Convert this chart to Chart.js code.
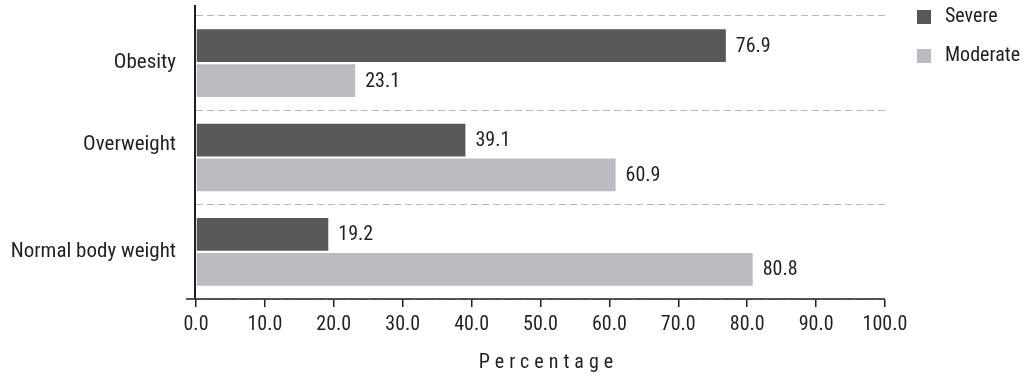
<!DOCTYPE html>
<html>
<head>
<meta charset="utf-8">
<script src="https://cdn.jsdelivr.net/npm/chart.js@4"></script>
<style>
  html, body { margin: 0; padding: 0; background: #fff; }
  #wrap { width: 1024px; height: 379px; }
</style>
</head>
<body>
<div id="wrap"><canvas id="chart"></canvas></div>
<script>
// the Overweight label sits one line high in the original, kept with an empty second line
const categories = ["Obesity", ["Overweight", ""], "Normal body weight"];
const severe = [76.9, 39.1, 19.2];
const moderate = [23.1, 60.9, 80.8];
const xTicks = [0, 10, 20, 30, 40, 50, 60, 70, 80, 90, 100];

const FONT = "'Roboto Condensed', 'DejaVu Sans Condensed', sans-serif";
const TEXT = '#231f20';
const FONT_CSS = '20px ' + FONT;

Chart.defaults.font.family = FONT;
Chart.defaults.font.size = 20;
Chart.defaults.color = TEXT;

// axis lines, value labels, legend, axis title
const extras = {
  id: 'extras',
  afterDatasetsDraw(chart) {
    const ctx = chart.ctx;
    ctx.save();
    ctx.font = FONT_CSS;
    ctx.fillStyle = TEXT;
    ctx.textAlign = 'left';
    ctx.textBaseline = 'middle';
    chart.data.datasets.forEach((ds, i) => {
      chart.getDatasetMeta(i).data.forEach((bar, j) => {
        ctx.fillText(ds.data[j].toFixed(1), bar.x + 10, bar.y + 1);
      });
    });
    ctx.restore();
  },
  afterDraw(chart) {
    const ctx = chart.ctx;
    const a = chart.chartArea;
    ctx.save();
    ctx.strokeStyle = '#231f20';
    ctx.lineWidth = 2;
    ctx.beginPath();
    ctx.moveTo(a.left - 1, a.top - 11);
    ctx.lineTo(a.left - 1, a.bottom);
    ctx.stroke();
    ctx.lineWidth = 1.5;
    ctx.beginPath();
    ctx.moveTo(a.left - 10, a.bottom);
    ctx.lineTo(a.right, a.bottom);
    ctx.stroke();

    // legend
    ctx.font = FONT_CSS;
    ctx.textBaseline = 'middle';
    ctx.textAlign = 'left';
    chart.data.datasets.forEach((ds, i) => {
      const y = 17 + i * 39;
      ctx.fillStyle = ds.backgroundColor;
      ctx.fillRect(917, y - 7, 14, 14);
      ctx.fillStyle = TEXT;
      ctx.fillText(ds.label, 945, y);
    });

    // axis title, letter spaced
    ctx.letterSpacing = '5px';
    ctx.textAlign = 'center';
    ctx.fillText('Percentage', (a.left + a.right) / 2 + 8, 363);
    ctx.restore();
  }
};

new Chart(document.getElementById('chart'), {
  type: 'bar',
  data: {
    labels: categories,
    datasets: [
      { label: 'Severe', data: severe, backgroundColor: '#58585a' },
      { label: 'Moderate', data: moderate, backgroundColor: '#bbbcbf' }
    ]
  },
  options: {
    indexAxis: 'y',
    responsive: true,
    maintainAspectRatio: false,
    animation: false,
    layout: { padding: { top: 16, right: 139, left: 0, bottom: 0 } },
    datasets: { bar: { categoryPercentage: 0.74, barPercentage: 0.94 } },
    plugins: {
      legend: { display: false },
      tooltip: { enabled: false }
    },
    scales: {
      x: {
        min: 0,
        max: 100,
        afterBuildTicks: (s) => { s.ticks = xTicks.map(v => ({ value: v })); },
        afterFit: (s) => { s.height = 80; s.paddingLeft = 0; s.paddingRight = 0; },
        border: { display: false },
        grid: {
          drawOnChartArea: false,
          drawTicks: true,
          tickLength: 8,
          color: '#231f20',
          lineWidth: 1.5
        },
        ticks: {
          padding: 6,
          callback: (v) => Number(v).toFixed(1)
        }
      },
      y: {
        afterFit: (s) => { s.width = 196; s.paddingTop = 0; s.paddingBottom = 0; },
        border: { display: false, dash: [7, 4] },
        grid: {
          offset: true,
          drawTicks: false,
          color: '#b5b6b8',
          lineWidth: 1
        },
        ticks: { padding: 20, font: { size: 21 } }
      }
    }
  },
  plugins: [extras]
});
</script>
</body>
</html>
